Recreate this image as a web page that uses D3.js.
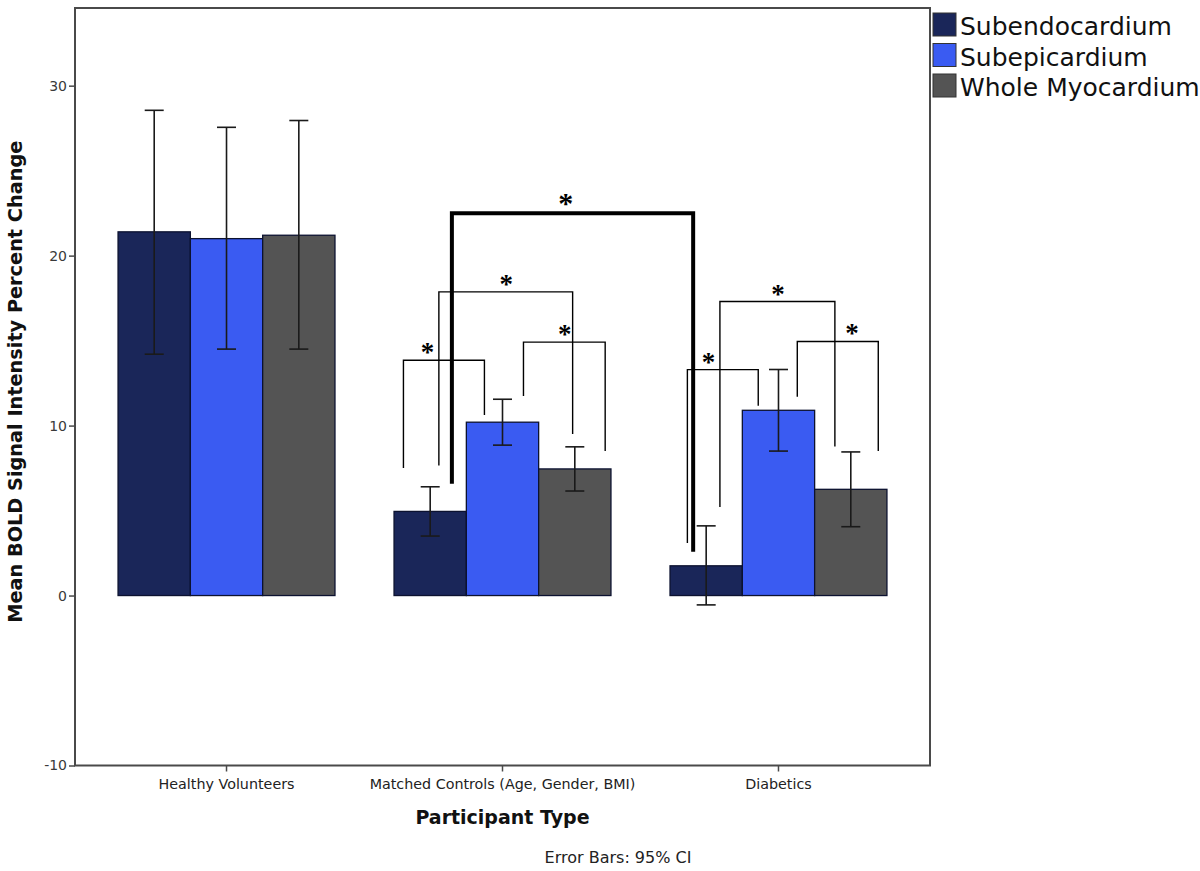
<!DOCTYPE html>
<html>
<head>
<meta charset="utf-8">
<script src="https://cdn.jsdelivr.net/npm/d3@7"></script>
<style>
  body { margin: 0; background: #fff; }
  svg { display: block; }
</style>
</head>
<body>
<div id="chart"></div>
<script>
// data
var groups = ["Healthy Volunteers", "Matched Controls (Age, Gender, BMI)", "Diabetics"];
var series = ["Subendocardium", "Subepicardium", "Whole Myocardium"];
var colors = ["#1a2659", "#3a5bf2", "#545454"];

var means = [
    [21.4, 21.0, 21.2],
    [4.95, 10.2, 7.45],
    [1.75, 10.9, 6.25]
];
var ciLow = [
    [14.2, 14.5, 14.5],
    [3.5, 8.85, 6.15],
    [-0.55, 8.5, 4.05]
];
var ciHigh = [
    [28.55, 27.55, 27.95],
    [6.4, 11.55, 8.75],
    [4.1, 13.3, 8.45]
];
var yTicks = [-10, 0, 10, 20, 30];

// significance brackets: [group, series, offset in bar widths, leg end] for each side,
// bar top (data units), star position along the bar (0..1)
var brackets = [
    { a: [1, 0, -0.37, 7.5],  b: [1, 1, -0.25, 10.63], top: 13.84, star: 0.29, thick: false },
    { a: [1, 0, 0.12, 7.65],  b: [1, 2, -0.03, 9.5],   top: 17.87, star: 0.5,  thick: false },
    { a: [1, 1, 0.29, 11.74], b: [1, 2, 0.42, 8.51],   top: 14.91, star: 0.5,  thick: false },
    { a: [1, 0, 0.30, 6.58],  b: [2, 0, -0.18, 2.58],  top: 22.5,  star: 0.47, thick: true },
    { a: [2, 0, -0.26, 3.09], b: [2, 1, -0.28, 11.16], top: 13.29, star: 0.29, thick: false },
    { a: [2, 0, 0.19, 5.21],  b: [2, 2, -0.22, 8.77],  top: 17.3,  star: 0.5,  thick: false },
    { a: [2, 1, 0.26, 11.7],  b: [2, 2, 0.38, 8.51],   top: 14.95, star: 0.67, thick: false }
];

var W = 1200, H = 871;
var plot = { left: 75, right: 930, top: 8, bottom: 765.5 };

var svg = d3.select("#chart").append("svg")
    .attr("width", W)
    .attr("height", H);

var x0 = d3.scaleBand()
    .domain(groups)
    .range([plot.left, plot.right])
    .paddingInner(0.214)
    .paddingOuter(0.156);
var x1 = d3.scaleBand()
    .domain(series)
    .range([0, x0.bandwidth()]);
var y = d3.scaleLinear()
    .domain([-10, 34.57])
    .range([plot.bottom, plot.top]);

function barX(g, s) { return x0(groups[g]) + x1(series[s]); }
function legX(p) { return barX(p[0], p[1]) + x1.bandwidth() * (0.5 + p[2]); }

// frame
svg.append("rect")
    .attr("x", plot.left).attr("y", plot.top)
    .attr("width", plot.right - plot.left)
    .attr("height", plot.bottom - plot.top)
    .attr("fill", "none")
    .attr("stroke", "#4a4a4a")
    .attr("stroke-width", 2);

// bars
var gBars = svg.append("g");
groups.forEach(function (g, gi) {
    series.forEach(function (s, si) {
        var v = means[gi][si];
        gBars.append("rect")
            .attr("x", barX(gi, si))
            .attr("y", y(Math.max(v, 0)))
            .attr("width", x1.bandwidth())
            .attr("height", Math.abs(y(v) - y(0)))
            .attr("fill", colors[si])
            .attr("stroke", "#0c1230")
            .attr("stroke-width", 1.3);
    });
});

// error bars
var gErr = svg.append("g").attr("stroke", "#1a1a1a").attr("stroke-width", 1.6);
var cap = 9.5;
groups.forEach(function (g, gi) {
    series.forEach(function (s, si) {
        var cx = barX(gi, si) + x1.bandwidth() / 2;
        var lo = y(ciLow[gi][si]), hi = y(ciHigh[gi][si]);
        gErr.append("line").attr("x1", cx).attr("x2", cx).attr("y1", lo).attr("y2", hi);
        gErr.append("line").attr("x1", cx - cap).attr("x2", cx + cap).attr("y1", lo).attr("y2", lo);
        gErr.append("line").attr("x1", cx - cap).attr("x2", cx + cap).attr("y1", hi).attr("y2", hi);
    });
});

// y axis
var yAxis = svg.append("g")
    .attr("transform", "translate(" + plot.left + ",0)")
    .call(d3.axisLeft(y).tickValues(yTicks).tickSize(6)
        .tickFormat(function (d) { return String(d); }));
yAxis.select(".domain").remove();
yAxis.selectAll(".tick line").attr("stroke", "#4a4a4a").attr("stroke-width", 1.5);
yAxis.selectAll(".tick text")
    .attr("fill", "#3a3a3a")
    .attr("font-family", "DejaVu Sans, sans-serif")
    .attr("font-size", "14px")
    .attr("x", -8);

// x axis
var xAxis = svg.append("g")
    .attr("transform", "translate(0," + plot.bottom + ")")
    .call(d3.axisBottom(x0).tickSize(6).tickSizeOuter(0));
xAxis.select(".domain").remove();
xAxis.selectAll(".tick line").attr("stroke", "#4a4a4a").attr("stroke-width", 1.5);
xAxis.selectAll(".tick text")
    .attr("fill", "#222")
    .attr("font-family", "DejaVu Sans, sans-serif")
    .attr("font-size", "14.3px")
    .attr("y", 13);

// axis titles
svg.append("text")
    .attr("transform", "translate(22," + ((plot.top + plot.bottom) / 2 - 5) + ") rotate(-90)")
    .attr("text-anchor", "middle")
    .attr("font-family", "DejaVu Sans, sans-serif")
    .attr("font-size", "19.3px")
    .attr("font-weight", "700")
    .attr("fill", "#111")
    .text("Mean BOLD Signal Intensity Percent Change");

svg.append("text")
    .attr("x", (plot.left + plot.right) / 2)
    .attr("y", 824)
    .attr("text-anchor", "middle")
    .attr("font-family", "DejaVu Sans, sans-serif")
    .attr("font-size", "19px")
    .attr("font-weight", "700")
    .attr("fill", "#111")
    .text("Participant Type");

svg.append("text")
    .attr("x", 618)
    .attr("y", 863)
    .attr("text-anchor", "middle")
    .attr("font-family", "DejaVu Sans, sans-serif")
    .attr("font-size", "16px")
    .attr("fill", "#222")
    .text("Error Bars: 95% CI");

// significance brackets
var gSig = svg.append("g").attr("fill", "none").attr("stroke", "#000");
brackets.forEach(function (b) {
    var xa = legX(b.a), xb = legX(b.b), yt = y(b.top);
    gSig.append("path")
        .attr("d", "M" + xa + "," + y(b.a[3]) + "V" + yt + "H" + xb + "V" + y(b.b[3]))
        .attr("stroke-width", b.thick ? 4 : 1.4)
        .attr("stroke-linejoin", "miter");
    svg.append("text")
        .attr("x", xa + (xb - xa) * b.star + 0.5)
        .attr("y", yt + (b.thick ? 0 : 1))
        .attr("text-anchor", "middle")
        .attr("font-family", "Liberation Serif, serif")
        .attr("font-weight", "700")
        .attr("font-size", b.thick ? "30px" : "27px")
        .attr("fill", "#000")
        .text("*");
});

// legend
var legend = svg.append("g").attr("transform", "translate(933,0)");
series.forEach(function (s, i) {
    var row = legend.append("g").attr("transform", "translate(0," + (13 + i * 30.5) + ")");
    row.append("rect")
        .attr("width", 23).attr("height", 23)
        .attr("fill", colors[i])
        .attr("stroke", "#333")
        .attr("stroke-width", 1);
    row.append("text")
        .attr("x", 27)
        .attr("y", 22)
        .attr("font-family", "DejaVu Sans, sans-serif")
        .attr("font-size", "25px")
        .attr("fill", "#111")
        .text(s);
});
</script>
</body>
</html>
